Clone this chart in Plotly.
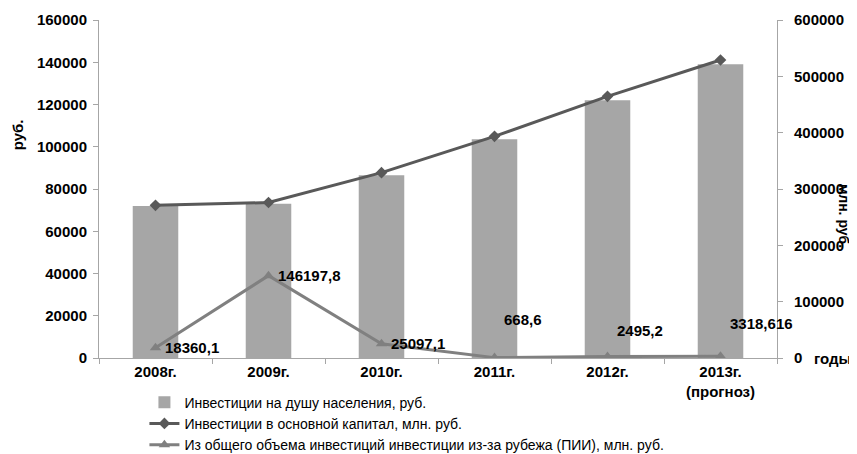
import plotly.graph_objects as go

categories = ["2008г.", "2009г.", "2010г.", "2011г.", "2012г.", "2013г.<br>(прогноз)"]
per_capita = [72000, 73000, 86500, 103500, 122000, 139000]
fixed_capital = [271000, 276000, 329000, 393500, 464500, 529000]
fdi = [18360.1, 146197.8, 25097.1, 668.6, 2495.2, 3318.616]
fdi_labels = ["18360,1", "146197,8", "25097,1", "668,6", "2495,2", "3318,616"]

names = [
    "Инвестиции на душу населения, руб.",
    "Инвестиции в основной капитал, млн. руб.",
    "Из общего объема инвестиций инвестиции из-за рубежа (ПИИ), млн. руб.",
]

FONT = "Liberation Sans, Arial, sans-serif"

fig = go.Figure()
fig.add_trace(go.Bar(x=categories, y=per_capita, name=names[0],
                     marker=dict(color="#a6a6a6", line=dict(width=0)), yaxis="y"))
fig.add_trace(go.Scatter(x=categories, y=fixed_capital, name=names[1], mode="lines+markers",
                         line=dict(color="#595959", width=3),
                         marker=dict(symbol="diamond", size=9, color="#595959"), yaxis="y2"))
fig.add_trace(go.Scatter(x=categories, y=fdi, name=names[2], mode="lines+markers",
                         line=dict(color="#808080", width=3),
                         marker=dict(symbol="triangle-up", size=10, color="#808080"), yaxis="y2"))

label_yshift = [0, 0, 0, 38, 26, 33]
for c, v, t, ys in zip(categories, fdi, fdi_labels, label_yshift):
    fig.add_annotation(x=c, y=v, xref="x", yref="y2", text=t, showarrow=False,
                       xanchor="left", yanchor="middle", xshift=7, yshift=ys,
                       font=dict(family=FONT, size=15, color="#000000", weight="bold"))

fig.add_annotation(x=-0.119, y=0.66, xref="paper", yref="paper", text="<b>руб.</b>",
                   showarrow=False, textangle=-90, xanchor="center", yanchor="middle",
                   font=dict(family=FONT, size=15, color="#000"))
fig.add_annotation(x=1.099, y=0.42, xref="paper", yref="paper", text="<b>млн. руб.</b>",
                   showarrow=False, textangle=90, xanchor="center", yanchor="middle",
                   font=dict(family=FONT, size=14, color="#000"))
fig.add_annotation(x=1.051, y=0, xref="paper", yref="paper", text="<b>годы</b>",
                   showarrow=False, xanchor="left", yanchor="middle",
                   font=dict(family=FONT, size=15, color="#000"))

axis_common = dict(showgrid=False, zeroline=False, showline=True, linecolor="#a6a6a6",
                   linewidth=1, ticks="outside", tickcolor="#a6a6a6", ticklen=5,
                   tickfont=dict(family=FONT, size=15, color="#000", weight="bold"))

fig.update_layout(
    width=857, height=454,
    margin=dict(l=91, r=88, t=12, b=104, autoexpand=False),
    paper_bgcolor="white", plot_bgcolor="white",
    bargap=0.597,
    showlegend=True,
    legend=dict(x=0.067, y=0.166, xref="paper", yref="container", xanchor="left", yanchor="top",
                orientation="v", font=dict(family=FONT, size=14, color="#000"), itemwidth=30,
                bgcolor="rgba(0,0,0,0)", tracegroupgap=0),
    xaxis=dict(**axis_common, tickson="boundaries", type="category", range=[-0.5, 5.5]),
    yaxis=dict(**axis_common, range=[0, 160000], dtick=20000, tickformat="d",
               ticklabelstandoff=3),
    yaxis2=dict(**axis_common, range=[0, 600000], dtick=100000, tickformat="d",
                overlaying="y", side="right", ticklabelstandoff=8),
)

fig.write_html("out.html")
